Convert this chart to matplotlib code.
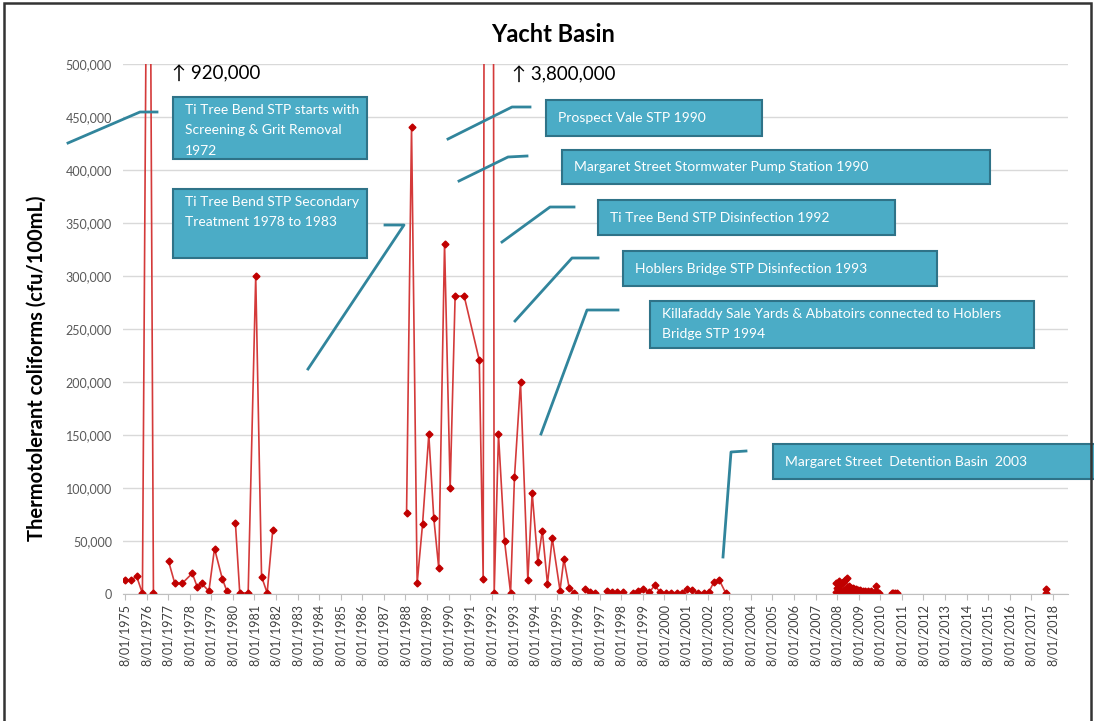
import numpy as np
import matplotlib
matplotlib.use("Agg")
import matplotlib.pyplot as plt
from matplotlib.patches import Rectangle
from matplotlib.lines import Line2D

plt.rcParams["font.family"] = ["Lato", "DejaVu Sans"]

# sample dates as decimal years; NaN marks a break in the line
dates = [
    1975.02, 1975.30, 1975.56, 1975.83, 1976.12, 1976.34, 1976.70,
    1977.04, 1977.33, 1977.67, 1978.14, 1978.37, 1978.57, 1978.91, 1979.17,
    1979.53, 1979.75, 1979.95,
    1980.14, 1980.34, 1980.73, 1981.08, 1981.35, 1981.61, 1981.87, 1985.00,
    1988.07, 1988.30, 1988.56, 1988.81, 1989.10, 1989.33, 1989.56, 1989.83,
    1990.09, 1990.32, 1990.74, 1991.44, 1991.62, 1991.91, 1992.13, 1992.33,
    1992.61, 1992.89, 1993.07, 1993.35, 1993.69, 1993.89, 1994.15, 1994.36,
    1994.60, 1994.82, 1995.18, 1995.36, 1995.61, 1995.85, 1996.10,
    1996.34, 1996.58, 1996.81, 1997.10,
    1997.34, 1997.58, 1997.81, 1998.11, 1998.35,
    1998.57, 1998.81, 1999.04, 1999.32, 1999.58, 1999.81, 2000.07, 2000.34,
    2000.58, 2000.83, 2001.08, 2001.31, 2001.59, 2001.85, 2002.08, 2002.31,
    2002.56, 2002.85, 2005.00,
    2007.96, 2007.99, 2008.03, 2008.07, 2008.10, 2008.14, 2008.18, 2008.22,
    2008.26, 2008.30, 2008.34, 2008.38, 2008.42, 2008.46, 2008.50, 2008.54,
    2008.58, 2008.62, 2008.66, 2008.70, 2008.74, 2008.78, 2008.82, 2008.86,
    2008.90, 2008.95, 2009.00, 2009.05, 2009.10, 2009.15, 2009.20, 2009.26,
    2009.32, 2009.38, 2009.45, 2009.52, 2009.60, 2009.68, 2009.76, 2009.84,
    2009.88, 2009.92, 2009.96, 2010.30,
    2010.55, 2010.62, 2010.70, 2010.78, 2014.00,
    2017.69, 2017.70,
]
values = [
    12800, 12800, 16800, 500, 920000, 1000, np.nan,
    31000, 10000, 10000, 19500, 6700, 10000, 2700, 42800,
    14500, 2400, np.nan,
    66700, 1000, 1000, 300000, 16500, 1000, 60600, np.nan,
    76400, 441000, 10000, 65700, 150500, 72000, 24600, 330600,
    100000, 281000, 281000, 220500, 14500, 3800000, 1000, 150500,
    50000, 1000, 110000, 200000, 12800, 95500, 30500, 59700,
    9500, 52900, 3300, 32900, 5300, 800, np.nan,
    4700, 1900, 1300, np.nan,
    3300, 2100, 1600, 1600, np.nan,
    1300, 3100, 4400, 1900, 8200, 1600, 900, 1300,
    1300, 900, 5000, 3500, 1300, 1300, 1900, 11300,
    13200, 1300, np.nan,
    10000, 2000, 6000, 1000, 12000, 3000, 500, 9000,
    1500, 11000, 4000, 13000, 800, 15000, 6000, 2000,
    7500, 1000, 6000, 3000, 5500, 800, 5000, 2500,
    4500, 700, 4000, 1500, 3500, 600, 3000, 1200,
    2500, 500, 2800, 900, 3200, 600, 1500, 8000,
    2000, 500, 1000, np.nan,
    1000, 600, 800, 500, np.nan,
    5000, 1000,
]
years = list(range(1975, 2019))
yticks = [0, 50000, 100000, 150000, 200000, 250000, 300000, 350000, 400000, 450000, 500000]

notes = [
    "Ti Tree Bend STP starts with\nScreening & Grit Removal\n1972",
    "Ti Tree Bend STP Secondary\nTreatment 1978 to 1983",
    "Prospect Vale STP 1990",
    "Margaret Street Stormwater Pump Station 1990",
    "Ti Tree Bend STP Disinfection 1992",
    "Hoblers Bridge STP Disinfection 1993",
    "Killafaddy Sale Yards & Abbatoirs connected to Hoblers\nBridge STP 1994",
    "Margaret Street  Detention Basin  2003",
]
# layout in figure pixels: box (x0, y0, x1, y1) and leader polyline
note_boxes = [(173, 97, 367, 159), (173, 189, 367, 258), (546, 100, 762, 136),
              (562, 150, 990, 184), (598, 200, 895, 235), (623, 251, 937, 286),
              (650, 301, 1034, 348), (773, 444, 1100, 479)]
note_leaders = [[(68, 143), (140, 112), (157, 112)],
                [(308, 369), (404, 225), (385, 225)],
                [(448, 139), (512, 107), (530, 107)],
                [(459, 181), (508, 157), (527, 156)],
                [(502, 242), (550, 207), (574, 207)],
                [(515, 321), (572, 258), (598, 258)],
                [(541, 434), (587, 310), (618, 310)],
                [(723, 557), (731, 452), (746, 451)]]

W, H = 1094, 721
fx = lambda x: x / W
fy = lambda y: 1 - y / H

fig = plt.figure(figsize=(W / 100, H / 100), dpi=100)
ax = fig.add_axes([fx(123), fy(594), fx(1068) - fx(123), fy(64) - fy(594)])

ax.plot(dates, values, color="#D43A3A", lw=1.2, marker="D", ms=3.5,
        mfc="#C00000", mec="#C00000")

ax.set_ylim(0, 500000)
ax.set_xlim(1974.93, 2018.72)
ax.set_yticks(yticks)
ax.set_yticklabels([f"{v:,}" for v in yticks], fontsize=9, color="#595959")
ax.set_xticks([y + 0.02 for y in years])
ax.set_xticklabels([f"8/01/{y}" for y in years], rotation=90, fontsize=9, color="#404040")
ax.tick_params(axis="y", length=0, pad=8)
ax.tick_params(axis="x", length=4, color="#BFBFBF", direction="out", pad=3)
ax.grid(axis="y", color="#D9D9D9", lw=1)
ax.set_axisbelow(True)
for s in ["top", "right", "left"]:
    ax.spines[s].set_visible(False)
ax.spines["bottom"].set_color("#BFBFBF")

fig.text(fx(553), fy(34), "Yacht Basin", fontsize=17, fontweight="bold", ha="center", va="center")
fig.text(fx(37), fy(368), "Thermotolerant coliforms (cfu/100mL)", fontsize=14.5, fontweight="bold",
         rotation=90, ha="center", va="center")
fig.text(fx(172), fy(74), "\u2191 920,000", fontsize=13.5, va="center")
fig.text(fx(512), fy(75), "\u2191 3,800,000", fontsize=13.5, va="center")

for txt, (x0, y0, x1, y1), pts in zip(notes, note_boxes, note_leaders):
    fig.add_artist(Line2D([fx(p[0]) for p in pts], [fy(p[1]) for p in pts],
                          color="#31859C", lw=2, transform=fig.transFigure))
    fig.add_artist(Rectangle((fx(x0), fy(y1)), fx(x1) - fx(x0), fy(y0) - fy(y1),
                             transform=fig.transFigure, facecolor="#4BACC6",
                             edgecolor="#2F7388", lw=1.5))
    nlines = txt.count("\n") + 1
    if nlines == 1 and y1 - y0 < 40:
        fig.text(fx(x0 + 12), fy((y0 + y1) / 2), txt, color="white", fontsize=10, va="center")
    else:
        fig.text(fx(x0 + 12), fy(y0 + 7), txt, color="white", fontsize=10, va="top", linespacing=1.85)

fig.add_artist(Rectangle((fx(4), fy(725)), fx(1091) - fx(4), fy(3) - fy(725),
                         transform=fig.transFigure, fill=False, edgecolor="#333333", lw=1.8))

fig.savefig("out.png", dpi=100)
